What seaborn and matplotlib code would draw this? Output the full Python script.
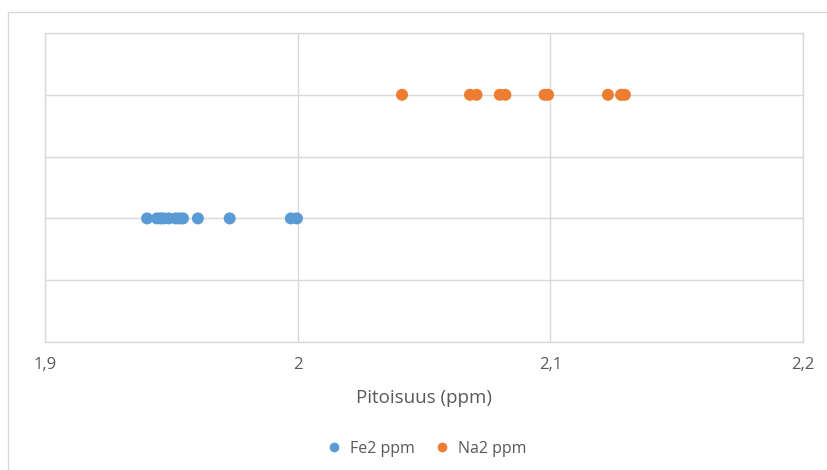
import matplotlib
matplotlib.use("Agg")
import matplotlib.pyplot as plt
import seaborn as sns
import pandas as pd
from matplotlib.lines import Line2D

fe_values = [1.9404, 1.9443, 1.9458, 1.9470, 1.9490, 1.9518, 1.9534, 1.9546, 1.9605, 1.9731, 1.9973, 1.9997]
na_values = [2.0413, 2.0682, 2.0708, 2.0800, 2.0822, 2.0977, 2.0991, 2.1228, 2.1280, 2.1295]
series_names = ["Fe2 ppm", "Na2 ppm"]
series_y = [1, 2]
colors = ["#5B9BD5", "#ED7D31"]
x_ticks = [1.9, 2.0, 2.1, 2.2]
x_tick_labels = ["1,9", "2", "2,1", "2,2"]
x_label = "Pitoisuus (ppm)"

rows = []
for name, yv, vals in zip(series_names, series_y, [fe_values, na_values]):
    for v in vals:
        rows.append({"x": v, "y": yv, "series": name})
df = pd.DataFrame(rows)

sns.set_theme(style="white")
plt.rcParams["font.family"] = ["Open Sans", "DejaVu Sans"]

fig = plt.figure(figsize=(8.27, 4.70), dpi=100)
ax = fig.add_axes([45/827, 1-342/470, (803-45)/827, (342-33)/470])

sns.scatterplot(data=df, x="x", y="y", hue="series", palette=colors,
                hue_order=series_names, s=75, edgecolor="none", ax=ax, legend=False,
                zorder=3)

ax.set_xlim(1.9, 2.2)
ax.set_ylim(0, 2.5)
ax.set_xticks(x_ticks)
ax.set_xticklabels(x_tick_labels, color="#595959", fontsize=12)
ax.set_yticks([0, 0.5, 1, 1.5, 2, 2.5])
ax.set_yticklabels([])
ax.tick_params(axis="both", length=0, pad=11)
ax.grid(True, color="#D9D9D9", linewidth=1)
ax.set_axisbelow(True)
for s in ax.spines.values():
    s.set_color("#D9D9D9")
    s.set_linewidth(1)
ax.set_xlabel(x_label, color="#595959", fontsize=13.5, labelpad=11)
ax.set_ylabel("")

handles = [Line2D([], [], marker="o", linestyle="none", markersize=7,
                  markerfacecolor=c, markeredgecolor="none", label=n)
           for n, c in zip(series_names, colors)]
fig.legend(handles=handles, loc="center", bbox_to_anchor=(0.511, 1-449/470), ncol=2,
           frameon=False, fontsize=11.5, handletextpad=0.0, columnspacing=0.7,
           labelcolor="#595959")

# outer chart border (left and top)
fig.add_artist(Line2D([8/827, 8/827], [0, 1-12/470], transform=fig.transFigure,
                      color="#D9D9D9", linewidth=1))
fig.add_artist(Line2D([8/827, 1], [1-12/470, 1-12/470], transform=fig.transFigure,
                      color="#D9D9D9", linewidth=1))

fig.savefig("out.png", dpi=100)
